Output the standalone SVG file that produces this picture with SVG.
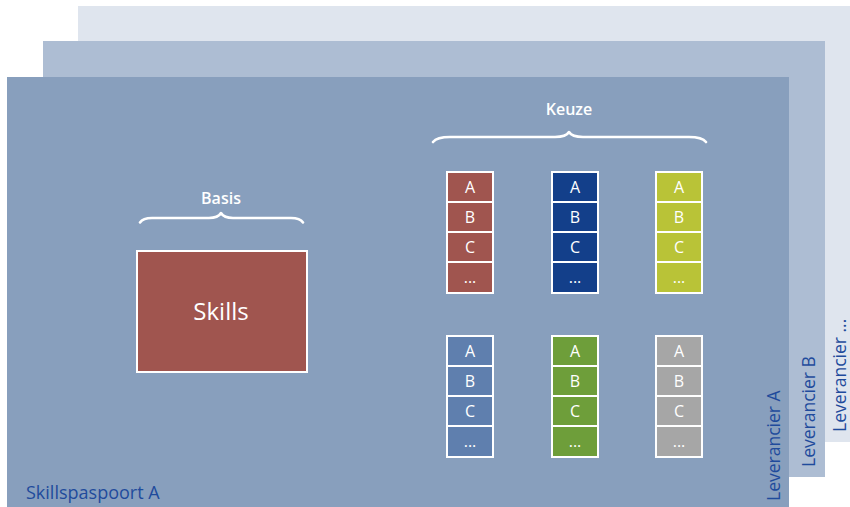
<svg xmlns="http://www.w3.org/2000/svg" width="850" height="507" viewBox="0 0 850 507">
  <style>
    .lbl { font-family: "Open Sans", "Noto Sans", "Liberation Sans", sans-serif; }
    .white { fill: #ffffff; }
    .blue { fill: #1f4b9c; }
    .semi { font-weight: 600; }
    .cell { stroke: #ffffff; stroke-width: 2; }
    .brace { fill: none; stroke: #ffffff; stroke-width: 2.6; stroke-linecap: round; stroke-linejoin: round; }
    .ct { font-size: 16px; text-anchor: middle; font-weight: 500; }
  </style>
  <defs>
    <!-- one option column: four stacked cells A, B, C, ... -->
    <g id="stack">
      <rect class="cell" x="0" y="0" width="46" height="30"/>
      <rect class="cell" x="0" y="30" width="46" height="30"/>
      <rect class="cell" x="0" y="60" width="46" height="30"/>
      <rect class="cell" x="0" y="90" width="46" height="31"/>
      <text class="lbl white ct" x="23" y="21">A</text>
      <text class="lbl white ct" x="23" y="51">B</text>
      <text class="lbl white ct" x="23" y="81">C</text>
      <text class="lbl white ct" x="23" y="111">...</text>
    </g>
  </defs>

  <rect width="850" height="507" fill="#ffffff"/>

  <!-- supplier layers -->
  <g id="layer-etc">
    <rect x="78" y="6" width="772" height="436" fill="#dfe5ee"/>
    <text class="lbl blue" font-size="17.5" transform="translate(846,432) rotate(-90)">Leverancier ...</text>
  </g>
  <g id="layer-b">
    <rect x="43" y="41" width="782" height="436" fill="#adbdd3"/>
    <text class="lbl blue" font-size="17.5" transform="translate(815,467) rotate(-90)">Leverancier B</text>
  </g>
  <g id="layer-a">
    <rect x="7" y="77" width="782" height="430" fill="#889fbd"/>
    <text class="lbl blue" font-size="17.5" transform="translate(780,501) rotate(-90)">Leverancier A</text>
    <text class="lbl blue" font-size="18" x="26" y="499">Skillspaspoort A</text>
  </g>

  <!-- basis -->
  <g id="basis">
    <text class="lbl white semi" font-size="16" x="221" y="204" text-anchor="middle">Basis</text>
    <path class="brace" d="M140,222.5 Q143,218 152,218 L209,218 Q218,218 221,213 Q224,218 233,218 L291,218 Q300,218 303,222.5"/>
  </g>
  <g id="skills">
    <rect x="137" y="251" width="170" height="121" fill="#a0554f" stroke="#ffffff" stroke-width="2"/>
    <text class="lbl white" font-size="24" x="221" y="320" text-anchor="middle">Skills</text>
  </g>

  <!-- keuze -->
  <g id="keuze">
    <text class="lbl white semi" font-size="16" x="569" y="115" text-anchor="middle">Keuze</text>
    <path class="brace" d="M433,142 Q437,137 450,137 L555,137 Q566,137 569,132 Q572,137 583,137 L689,137 Q702,137 706,142"/>
  </g>

  <g id="option-1"><use href="#stack" x="447" y="172" fill="#a0554f"/></g>
  <g id="option-2"><use href="#stack" x="552" y="172" fill="#133f8a"/></g>
  <g id="option-3"><use href="#stack" x="656" y="172" fill="#b9c337"/></g>
  <g id="option-4"><use href="#stack" x="447" y="336" fill="#5f7fae"/></g>
  <g id="option-5"><use href="#stack" x="552" y="336" fill="#6e9e3a"/></g>
  <g id="option-6"><use href="#stack" x="656" y="336" fill="#a6a6a6"/></g>
</svg>
